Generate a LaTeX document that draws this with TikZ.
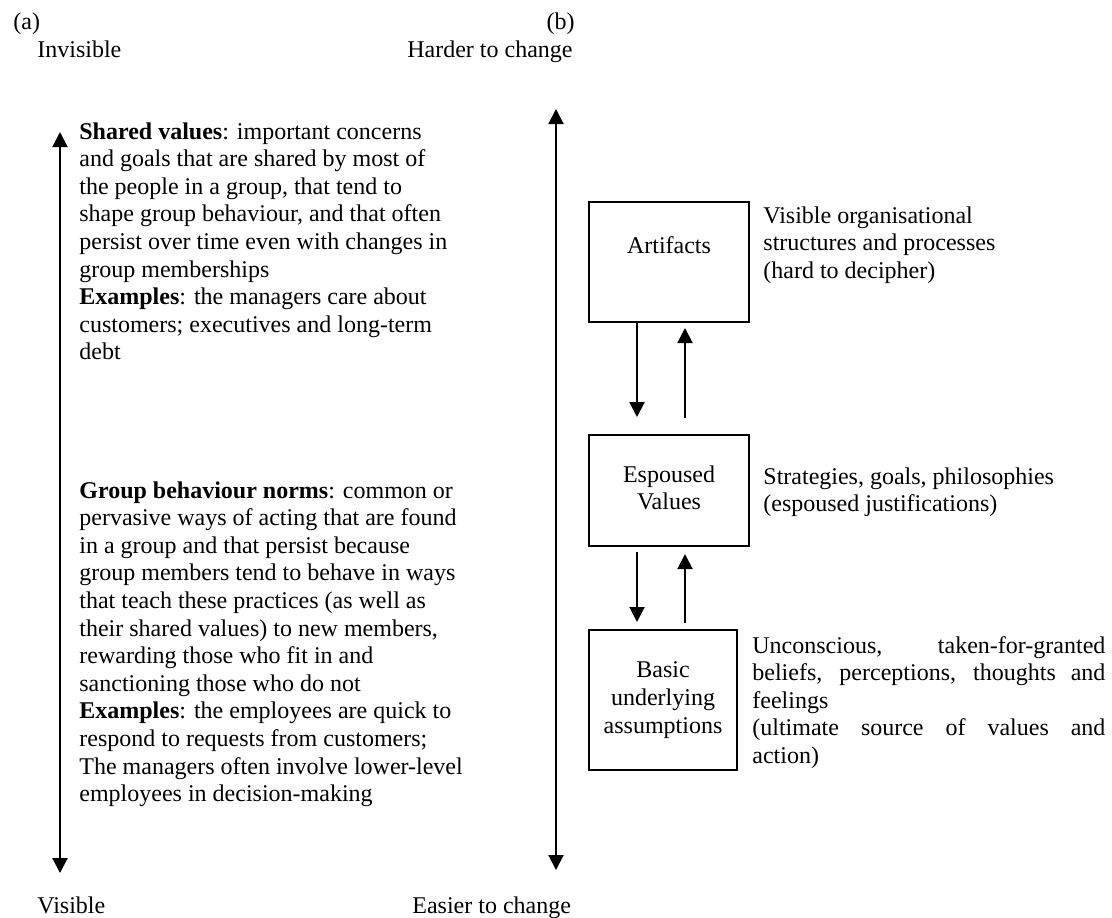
\documentclass[tikz,border=0pt]{standalone}
\usepackage{fontspec}
\setmainfont{Liberation Serif}
\usetikzlibrary{arrows.meta}
% stacked lines, aligned on the baseline of the first one
\newcommand{\colrows}[2]{\begin{tabular}[t]{@{}#1@{}}#2\end{tabular}}
\begin{document}
\begin{tikzpicture}[x=0.5pt,y=-0.5pt,
  font=\fontsize{12}{13.8}\selectfont,
  txt/.style={anchor=base west,inner sep=0pt},
  layer/.style={draw,line width=1pt,inner sep=0pt,align=center},
  arr/.style={line width=1pt,-{Triangle[width=7.5pt,length=7.5pt]}},
  dblarr/.style={line width=1pt,{Triangle[width=7.5pt,length=7.5pt]}-{Triangle[width=7.5pt,length=7.5pt]}}]
\useasboundingbox (0,0) rectangle (1112,917);

% ---------- (a) visible / invisible ----------
\node[txt] (pa) at (13,29) {(a)};
\node[txt] (inv) at (37,57) {Invisible};
\node[txt] (vis) at (37,913) {Visible};
\coordinate (ltop) at (60,132);
\coordinate (lbot) at (60,873);
\draw[dblarr] (ltop) -- (lbot);

\node[txt] (shared) at (79,139) {\colrows{l}{%
\textbf{Shared values}: important concerns\\
and goals that are shared by most of\\
the people in a group, that tend to\\
shape group behaviour, and that often\\
persist over time even with changes in\\
group memberships\\
\textbf{Examples}: the managers care about\\
customers; executives and long-term\\
debt}};

\node[txt] (norms) at (79,498) {\colrows{l}{%
\textbf{Group behaviour norms}: common or\\
pervasive ways of acting that are found\\
in a group and that persist because\\
group members tend to behave in ways\\
that teach these practices (as well as\\
their shared values) to new members,\\
rewarding those who fit in and\\
sanctioning those who do not\\
\textbf{Examples}: the employees are quick to\\
respond to requests from customers;\\
The managers often involve lower-level\\
employees in decision-making}};

% ---------- (b) harder / easier to change ----------
\node[txt,anchor=base east] (pb) at (575,29) {(b)};
\node[txt,anchor=base east] (hard) at (573,57) {Harder to change};
\node[txt] (easy) at (412,913) {Easier to change};
\coordinate (rtop) at (556,109);
\coordinate (rbot) at (556,870);
\draw[dblarr] (rtop) -- (rbot);

% the three layers
\node[layer,minimum width=80pt,minimum height=60pt] (art) at (669,262)
  {\colrows{c}{Artifacts\\\mbox{}}};
\node[layer,minimum width=80pt,minimum height=55.5pt] (esp) at (669,490.5)
  {\colrows{c}{Espoused\\Values}};
\node[layer,minimum width=74pt,minimum height=70pt] (bas) at (663,700)
  {\colrows{c}{Basic\\underlying\\assumptions}};

\node[txt] (artnote) at (763,223) {\colrows{l}{%
Visible organisational\\
structures and processes\\
(hard to decipher)}};
\node[txt] (espnote) at (763,484) {\colrows{l}{%
Strategies, goals, philosophies\\
(espoused justifications)}};
\node[txt] (basnote) at (752,653) {\colrows{l}{%
\makebox[176.5pt][s]{Unconscious, taken-for-granted}\\
\makebox[176.5pt][s]{beliefs, perceptions, thoughts and}\\
feelings\\
\makebox[176.5pt][s]{(ultimate source of values and}\\
action)}};

% links between the layers
\coordinate (xd) at (637,0);
\coordinate (xu) at (685,0);
\draw[arr,shorten >=8.5pt] (art.south -| xd) -- (esp.north -| xd);
\draw[arr,shorten <=8pt,shorten >=2.5pt] (esp.north -| xu) -- (art.south -| xu);
\draw[arr,shorten <=2.5pt,shorten >=3.5pt] (esp.south -| xd) -- (bas.north -| xd);
\draw[arr,shorten <=3pt,shorten >=3.5pt] (bas.north -| xu) -- (esp.south -| xu);
\end{tikzpicture}
\end{document}
